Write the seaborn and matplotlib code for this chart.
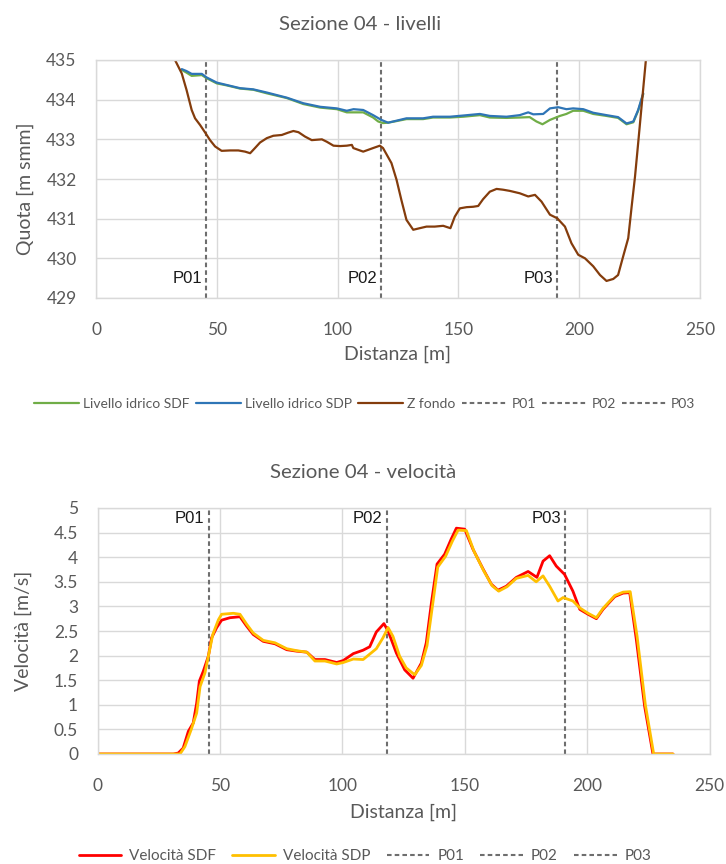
import matplotlib
matplotlib.use("Agg")
import matplotlib.pyplot as plt
import seaborn as sns
from matplotlib.ticker import FuncFormatter, MultipleLocator

# ---------------------------------------------------------------- data
# Sezione 04 - livelli
bed_x = [31.5, 32.7, 35.5, 37.5, 39.6, 41.0, 43.1, 45.4, 47.2, 49.3, 52.0, 55.5, 58.9,
         61.7, 63.8, 65.8, 67.9, 70.7, 73.4, 76.9, 79.6, 81.7, 83.8, 86.5, 89.3, 93.5,
         95.5, 98.3, 101.0, 103.8, 105.9, 106.5, 110.6, 114.7, 117.5, 118.8, 122.3,
         124.4, 126.4, 128.5, 131.3, 134.0, 136.8, 140.2, 143.7, 146.7, 148.5, 150.6,
         153.4, 156.1, 158.2, 160.2, 163.0, 165.8, 168.5, 171.3, 175.4, 178.9, 181.7,
         184.4, 187.9, 190.9, 194.1, 196.8, 199.6, 202.4, 205.8, 208.6, 211.3, 214.1,
         216.1, 218.2, 220.3, 221.7, 223.1, 224.4, 225.8, 227.6, 228.5]
bed_z = [435.4, 435.0, 434.66, 434.24, 433.74, 433.53, 433.36, 433.15, 432.98, 432.82,
         432.71, 432.72, 432.72, 432.69, 432.65, 432.78, 432.92, 433.03, 433.09, 433.11,
         433.17, 433.21, 433.18, 433.07, 432.98, 433.0, 432.94, 432.84, 432.83, 432.84,
         432.86, 432.78, 432.69, 432.78, 432.84, 432.78, 432.40, 431.98, 431.47, 430.97,
         430.72, 430.76, 430.80, 430.80, 430.82, 430.76, 431.05, 431.26, 431.29, 431.30,
         431.32, 431.49, 431.68, 431.75, 431.73, 431.70, 431.64, 431.56, 431.60, 431.43,
         431.10, 431.01, 430.80, 430.38, 430.09, 430.0, 429.80, 429.58, 429.43, 429.48,
         429.58, 430.05, 430.51, 431.30, 432.06, 432.90, 433.82, 435.0, 435.5]

wl_x_sdp = [35.5, 37.5, 39.6, 43.8, 45.8, 50.0, 54.1, 59.6, 65.1, 70.7, 79.0, 85.8, 92.8,
            99.7, 103.8, 106.6, 110.6, 114.7, 118.1, 120.9, 124.4, 128.5, 135.4, 139.5,
            146.5, 152.0, 158.9, 163.0, 169.9, 175.4, 178.9, 181.0, 185.1, 187.9, 191.3,
            194.7, 197.5, 201.7, 205.8, 211.3, 216.1, 219.6, 222.4, 224.4, 226.5]
wl_sdp = [434.77, 434.72, 434.65, 434.65, 434.56, 434.43, 434.37, 434.29, 434.26, 434.18,
          434.05, 433.91, 433.82, 433.78, 433.72, 433.76, 433.74, 433.61, 433.49, 433.42,
          433.47, 433.53, 433.53, 433.57, 433.57, 433.60, 433.64, 433.59, 433.57, 433.61,
          433.68, 433.63, 433.64, 433.78, 433.81, 433.76, 433.78, 433.76, 433.67, 433.61,
          433.56, 433.40, 433.45, 433.74, 434.16]

wl_x_sdf = [35.5, 37.5, 39.6, 43.8, 45.8, 50.0, 54.1, 59.6, 65.1, 70.7, 79.0, 85.8, 92.8,
            99.7, 103.8, 106.6, 110.6, 114.7, 116.8, 118.8, 120.9, 124.4, 128.5, 135.4,
            139.5, 146.5, 152.0, 158.9, 163.0, 169.9, 175.4, 179.5, 182.3, 184.8, 187.9,
            192.0, 194.7, 197.5, 201.7, 205.8, 211.3, 216.1, 219.6, 222.4, 224.4, 226.5]
wl_sdf = [434.75, 434.68, 434.60, 434.62, 434.54, 434.41, 434.36, 434.28, 434.25, 434.16,
          434.04, 433.89, 433.80, 433.76, 433.68, 433.68, 433.68, 433.55, 433.45, 433.41,
          433.42, 433.46, 433.51, 433.51, 433.55, 433.55, 433.57, 433.61, 433.55, 433.54,
          433.55, 433.56, 433.45, 433.38, 433.49, 433.59, 433.64, 433.72, 433.72, 433.64,
          433.59, 433.54, 433.38, 433.43, 433.72, 434.14]

# Sezione 04 - velocità
vel_x_sdf = [0, 31.0, 33.0, 35.0, 37.1, 39.1, 40.5, 41.6, 43.2, 45.3, 46.6, 48.7, 50.7,
             54.1, 58.2, 60.9, 63.6, 67.7, 72.5, 77.3, 81.4, 85.5, 88.8, 92.9, 97.7,
             100.4, 104.5, 108.5, 111.2, 113.9, 117.0, 118.7, 122.1, 125.5, 128.9, 132.3,
             134.3, 136.4, 138.7, 141.8, 144.5, 146.6, 150.0, 153.4, 157.5, 160.9, 163.6,
             167.0, 171.1, 175.9, 179.5, 182.0, 184.7, 187.4, 190.8, 194.2, 197.0, 200.4,
             203.8, 206.5, 211.3, 214.7, 217.4, 220.1, 223.5, 226.9, 235.1]
vel_sdf = [0, 0, 0.02, 0.12, 0.46, 0.63, 1.03, 1.48, 1.68, 1.99, 2.36, 2.57, 2.72, 2.77,
           2.79, 2.60, 2.43, 2.29, 2.24, 2.12, 2.09, 2.07, 1.92, 1.92, 1.86, 1.90, 2.04,
           2.11, 2.18, 2.48, 2.65, 2.50, 2.05, 1.71, 1.54, 1.85, 2.26, 3.07, 3.86, 4.06,
           4.37, 4.59, 4.57, 4.16, 3.76, 3.45, 3.33, 3.41, 3.59, 3.71, 3.59, 3.92, 4.03,
           3.82, 3.65, 3.31, 2.94, 2.84, 2.75, 2.94, 3.20, 3.27, 3.28, 2.33, 0.97, 0.0, 0.0]

vel_x_sdp = [0, 33.7, 35.7, 38.3, 40.5, 41.9, 43.9, 45.3, 47.1, 49.4, 50.7, 55.5, 58.2,
             60.9, 63.6, 67.7, 72.5, 77.3, 81.4, 85.5, 88.8, 92.9, 97.7, 100.4, 104.5,
             108.5, 113.9, 116.6, 118.7, 120.7, 123.4, 126.1, 129.6, 132.3, 134.6, 136.8,
             139.0, 142.2, 145.0, 147.3, 150.7, 153.8, 157.8, 161.2, 163.9, 167.3, 171.1,
             175.9, 179.2, 182.0, 184.7, 188.1, 190.2, 194.2, 197.0, 200.4, 203.8, 206.5,
             211.3, 214.7, 217.6, 220.4, 223.8, 227.2, 235.1]
vel_sdp = [0, 0, 0.15, 0.50, 0.83, 1.37, 1.65, 1.99, 2.43, 2.73, 2.84, 2.86, 2.84, 2.64,
           2.46, 2.31, 2.26, 2.14, 2.10, 2.07, 1.89, 1.89, 1.83, 1.86, 1.93, 1.92, 2.14,
           2.36, 2.57, 2.39, 1.99, 1.75, 1.61, 1.80, 2.20, 3.00, 3.80, 4.02, 4.33, 4.55,
           4.54, 4.12, 3.72, 3.42, 3.31, 3.40, 3.57, 3.63, 3.50, 3.62, 3.41, 3.11, 3.18,
           3.11, 2.97, 2.86, 2.77, 2.96, 3.22, 3.29, 3.30, 2.40, 1.00, 0.0, 0.0]

# survey points (P01..P03) along the section
point_names = ["P01", "P02", "P03"]
point_x = [45.4, 118.1, 190.9]

x_ticks = [0, 50, 100, 150, 200, 250]

# ---------------------------------------------------------------- style
sns.set_theme(style="white")
plt.rcParams["font.family"] = ["Lato", "DejaVu Sans"]

TEXT = "#595959"
GRID = "#D9D9D9"
DASH = "#6E6E6E"
C_SDF_WL = "#70AD47"
C_SDP_WL = "#2E75B6"
C_BED = "#843C0C"
C_SDF_V = "#FF0000"
C_SDP_V = "#FFC000"
NARROW = ["Liberation Sans Narrow", "Liberation Sans", "DejaVu Sans"]

fig = plt.figure(figsize=(7.26, 8.64), dpi=100)
W, H = 726.0, 864.0
ax1 = fig.add_axes([96 / W, 1 - 298 / H, 604 / W, 238 / H])
ax2 = fig.add_axes([97.5 / W, 1 - 754 / H, 612 / W, 246 / H])


def dress(ax):
    ax.grid(True, color=GRID, lw=1.0)
    ax.set_axisbelow(True)
    for s in ax.spines.values():
        s.set_color(GRID)
        s.set_linewidth(1.0)
    ax.tick_params(length=0, labelsize=12.5, colors=TEXT)
    ax.tick_params(axis="y", pad=14)
    ax.tick_params(axis="x", pad=17)
    ax.set_xlim(0, 250)
    ax.set_xticks(x_ticks)
    ax.set_xlabel("Distanza [m]", fontsize=14, color=TEXT)
    ax.xaxis.label.set_va("center")
    ax.yaxis.label.set_va("center")


def draw_points(ax, label_y):
    for name, px in zip(point_names, point_x):
        ax.axvline(px, color=DASH, lw=1.5, ls=(0, (2.2, 1.5)), label=name, zorder=1)
        ax.text(px - 1.6, label_y, name, ha="right", va="baseline",
                fontsize=12, color="#1A1A1A", family=NARROW)


# ---------------------------------------------------------------- levels
sns.lineplot(x=wl_x_sdf, y=wl_sdf, ax=ax1, color=C_SDF_WL, lw=1.6,
             label="Livello idrico SDF", estimator=None, sort=False)
sns.lineplot(x=wl_x_sdp, y=wl_sdp, ax=ax1, color=C_SDP_WL, lw=1.6,
             label="Livello idrico SDP", estimator=None, sort=False)
sns.lineplot(x=bed_x, y=bed_z, ax=ax1, color=C_BED, lw=1.6,
             label="Z fondo", estimator=None, sort=False)
draw_points(ax1, 429.38)
ax1.set_ylabel("Quota [m smm]", fontsize=14, color=TEXT)
dress(ax1)
ax1.set_ylim(429, 435)
ax1.yaxis.set_major_locator(MultipleLocator(1))
ax1.yaxis.set_label_coords(-0.1175, 0.46)
ax1.xaxis.set_label_coords(0.5, -0.235)
h1, l1 = ax1.get_legend_handles_labels()
ax1.get_legend().remove()
fig.legend(h1, l1, loc="center", bbox_to_anchor=(364.5 / W, 1 - 404 / H), ncol=6,
           frameon=False, fontsize=10, labelcolor=TEXT, handlelength=3.25,
           handletextpad=0.3, columnspacing=0.45)
fig.text(360 / W, 1 - 30 / H, "Sezione 04 - livelli", ha="center", va="baseline",
         fontsize=14.7, color=TEXT)

# ---------------------------------------------------------------- velocities
sns.lineplot(x=vel_x_sdf, y=vel_sdf, ax=ax2, color=C_SDF_V, lw=2.0,
             label="Velocità SDF", estimator=None, sort=False)
sns.lineplot(x=vel_x_sdp, y=vel_sdp, ax=ax2, color=C_SDP_V, lw=2.0,
             label="Velocità SDP", estimator=None, sort=False)
draw_points(ax2, 4.69)
ax2.set_ylabel("Velocità [m/s]", fontsize=14, color=TEXT)
dress(ax2)
ax2.set_ylim(0, 5)
ax2.yaxis.set_major_locator(MultipleLocator(0.5))
ax2.yaxis.set_major_formatter(FuncFormatter(lambda v, _: f"{v:g}"))
ax2.yaxis.set_label_coords(-0.121, 0.5)
ax2.xaxis.set_label_coords(0.5, -0.236)
h2, l2 = ax2.get_legend_handles_labels()
ax2.get_legend().remove()
fig.legend(h2, l2, loc="center", bbox_to_anchor=(365 / W, 1 - 856 / H), ncol=5,
           frameon=False, fontsize=11, labelcolor=TEXT, handlelength=2.8,
           handletextpad=0.52, columnspacing=1.05)
fig.text(363 / W, 1 - 478 / H, "Sezione 04 - velocità", ha="center", va="baseline",
         fontsize=14.7, color=TEXT)

fig.savefig("out.png", dpi=100)
